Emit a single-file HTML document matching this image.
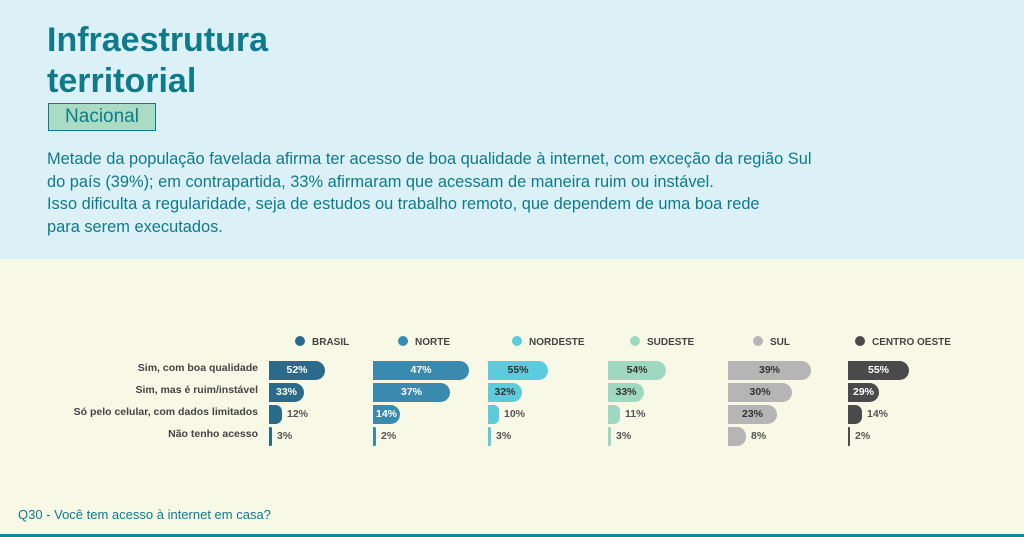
<!DOCTYPE html><html><head><style>
body{margin:0;width:1024px;height:537px;overflow:hidden;font-family:"Liberation Sans",sans-serif;background:#f7f9e6;position:relative}
.top{position:absolute;left:0;top:0;width:1024px;height:259px;background:#dcf0f7}
.t{position:absolute;color:#0f7b8a}
.lab{position:absolute;right:766px;font-size:10.5px;font-weight:bold;color:#444;white-space:nowrap}
.bar{position:absolute;height:19px;font-size:10.5px;font-weight:bold;line-height:19px;text-align:center}
.v{position:absolute;font-size:10.5px;font-weight:bold;color:#555;line-height:19px}
.lg{position:absolute;top:336px;font-size:10px;font-weight:bold;color:#444}
.lg i{display:inline-block;width:10px;height:10px;border-radius:50%;margin-right:7px;vertical-align:-1px}
</style></head><body>
<div class="top"></div>
<div class="t" style="left:47px;top:20px;font-size:34px;font-weight:bold;line-height:41px">Infraestrutura<br>territorial</div>
<div class="t" style="left:48px;top:103px;width:106px;height:26px;background:#a9dcc2;border:1px solid #0f7b8a;font-size:19px;line-height:26px;text-align:center">Nacional</div>
<div class="t" style="left:47px;top:148px;font-size:16.4px;line-height:22.7px">Metade da população favelada afirma ter acesso de boa qualidade à internet, com exceção da região Sul<br>do país (39%); em contrapartida, 33% afirmaram que acessam de maneira ruim ou instável.<br>Isso dificulta a regularidade, seja de estudos ou trabalho remoto, que dependem de uma boa rede<br>para serem executados.</div>
<div class="lg" style="left:295px"><i style="background:#2b6a8a"></i>BRASIL</div>
<div class="lg" style="left:398px"><i style="background:#3a8ab0"></i>NORTE</div>
<div class="lg" style="left:512px"><i style="background:#5ccbdc"></i>NORDESTE</div>
<div class="lg" style="left:630px"><i style="background:#9fd8c0"></i>SUDESTE</div>
<div class="lg" style="left:753px"><i style="background:#b5b5b5"></i>SUL</div>
<div class="lg" style="left:855px"><i style="background:#4a4a4a"></i>CENTRO OESTE</div>
<div class="lab" style="top:362px">Sim, com boa qualidade</div>
<div class="lab" style="top:384px">Sim, mas é ruim/instável</div>
<div class="lab" style="top:406px">Só pelo celular, com dados limitados</div>
<div class="lab" style="top:428px">Não tenho acesso</div>
<div id="bars"></div>
<div class="t" style="left:18px;top:507px;font-size:13px">Q30 - Você tem acesso à internet em casa?</div>
<div style="position:absolute;left:0;top:534px;width:1024px;height:3px;background:#0f8a94"></div>
<script>
var g=[[269,"#2b6a8a","#fff",[[52,56],[33,35],[12,13],[3,3]]],[373,"#3a8ab0","#fff",[[47,96],[37,77],[14,27],[2,3]]],[488,"#5ccbdc","#333",[[55,60],[32,34],[10,11],[3,3]]],[608,"#9fd8c0","#333",[[54,58],[33,36],[11,12],[3,3]]],[728,"#b5b5b5","#333",[[39,83],[30,64],[23,49],[8,18]]],[848,"#4a4a4a","#fff",[[55,61],[29,31],[14,14],[2,2]]]];
var h="";g.forEach(function(c){c[3].forEach(function(r,i){var y=361+i*22;var inside=r[1]>=25;var rr=Math.min(10,r[1]/2);
h+='<div class="bar" style="left:'+c[0]+'px;top:'+y+'px;width:'+r[1]+'px;background:'+c[1]+';color:'+c[2]+';border-radius:0 '+rr+'px '+rr+'px 0">'+(inside?r[0]+'%':'')+'</div>';
if(!inside)h+='<div class="v" style="left:'+(c[0]+r[1]+5)+'px;top:'+y+'px">'+r[0]+'%</div>';});});
document.getElementById("bars").innerHTML=h;
</script>
</body></html>
